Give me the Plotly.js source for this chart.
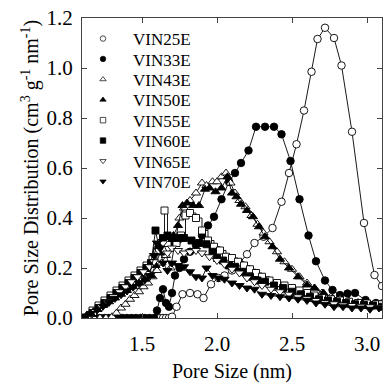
<!DOCTYPE html>
<html>
<head>
<meta charset="utf-8">
<script src="https://cdn.plot.ly/plotly-3.0.1.min.js"></script>
<style>html,body{margin:0;padding:0;background:#fff;}#chart{width:383px;height:383px;}</style>
</head>
<body>
<div id="chart"></div>
<script>
// ---- data ----
var seriesNames = ["VIN25E","VIN33E","VIN43E","VIN50E","VIN55E","VIN60E","VIN65E","VIN70E"];

var x25 = [1.60,1.62,1.64,1.66,1.68,1.70,1.73,1.77,1.82,1.87,1.91,1.96,2.01,2.05,2.10,2.15,2.20,2.25,2.31,2.37,2.43,2.48,2.53,2.58,2.63,2.67,2.72,2.78,2.83,2.90,2.98,3.05,3.10];
var y25 = [0,0,0,0,0,0.005,0.045,0.095,0.10,0.095,0.08,0.135,0.16,0.17,0.19,0.22,0.255,0.30,0.325,0.36,0.465,0.58,0.695,0.83,0.985,1.116,1.161,1.12,1.01,0.745,0.38,0.172,0.128];

var x33 = [1.10,1.13,1.16,1.19,1.22,1.25,1.28,1.31,1.34,1.37,1.40,1.43,1.46,1.49,1.52,1.55,1.58,1.60,1.62,1.64,1.66,1.68,1.70,1.72,1.75,1.78,1.82,1.86,1.90,1.94,1.98,2.03,2.08,2.12,2.16,2.21,2.26,2.32,2.38,2.43,2.49,2.55,2.61,2.66,2.72,2.77,2.82,2.87,2.92,2.99,3.06,3.10];
var y33 = [0,0,0,0,0,0,0,0,0,0,0,0,0,0,0,0,0,0.03,0.08,0.115,0.06,0.045,0.10,0.17,0.20,0.235,0.265,0.29,0.33,0.37,0.405,0.475,0.545,0.58,0.62,0.67,0.765,0.765,0.765,0.735,0.628,0.475,0.33,0.227,0.15,0.112,0.092,0.098,0.10,0.072,0.06,0.058];

var x43 = [1.10,1.14,1.18,1.22,1.26,1.30,1.33,1.36,1.39,1.42,1.45,1.48,1.51,1.54,1.57,1.60,1.63,1.66,1.69,1.72,1.75,1.78,1.82,1.86,1.90,1.93,1.97,2.00,2.03,2.06,2.09,2.12,2.15,2.19,2.23,2.27,2.31,2.35,2.40,2.45,2.50,2.55,2.60,2.65,2.70,2.76,2.82,2.88,2.94,3.00,3.06,3.10];
var y43 = [0,0,0,0,0,0.005,0.02,0.04,0.055,0.075,0.09,0.105,0.125,0.14,0.165,0.19,0.22,0.25,0.20,0.30,0.40,0.44,0.47,0.50,0.54,0.53,0.545,0.545,0.565,0.58,0.54,0.50,0.47,0.445,0.41,0.375,0.34,0.305,0.265,0.225,0.195,0.165,0.14,0.12,0.10,0.085,0.075,0.068,0.062,0.057,0.052,0.05];

var x50 = [1.10,1.13,1.16,1.20,1.24,1.28,1.32,1.36,1.40,1.44,1.48,1.52,1.56,1.59,1.62,1.65,1.68,1.71,1.74,1.77,1.80,1.84,1.88,1.92,1.95,1.99,2.03,2.07,2.10,2.13,2.16,2.20,2.24,2.28,2.32,2.37,2.42,2.48,2.54,2.60,2.65,2.71,2.77,2.83,2.90,2.97,3.04,3.10];
var y50 = [0,0.01,0.02,0.035,0.05,0.065,0.08,0.095,0.11,0.125,0.14,0.155,0.17,0.21,0.26,0.30,0.30,0.33,0.37,0.45,0.46,0.45,0.45,0.515,0.52,0.505,0.52,0.565,0.50,0.485,0.455,0.43,0.405,0.365,0.325,0.285,0.235,0.20,0.165,0.132,0.12,0.10,0.08,0.07,0.06,0.055,0.05,0.05];

var x55 = [1.13,1.17,1.21,1.25,1.29,1.33,1.37,1.41,1.45,1.49,1.53,1.57,1.60,1.63,1.65,1.67,1.70,1.73,1.76,1.79,1.82,1.86,1.90,1.94,1.98,2.02,2.06,2.10,2.14,2.18,2.22,2.26,2.30,2.35,2.40,2.45,2.50,2.55,2.60,2.65,2.70,2.76,2.82,2.88,2.94,3.00,3.06,3.10];
var y55 = [0,0.03,0.05,0.07,0.09,0.11,0.13,0.15,0.17,0.19,0.21,0.235,0.27,0.30,0.43,0.30,0.32,0.30,0.33,0.41,0.42,0.40,0.35,0.31,0.285,0.27,0.245,0.24,0.225,0.21,0.195,0.18,0.165,0.15,0.14,0.13,0.12,0.11,0.10,0.09,0.08,0.075,0.07,0.065,0.06,0.058,0.055,0.055];

var x60 = [1.13,1.17,1.21,1.25,1.29,1.33,1.37,1.41,1.45,1.49,1.53,1.56,1.59,1.61,1.64,1.67,1.70,1.74,1.78,1.83,1.88,1.93,1.97,2.00,2.04,2.08,2.12,2.17,2.22,2.27,2.32,2.38,2.44,2.50,2.56,2.62,2.68,2.74,2.80,2.86,2.92,2.98,3.04,3.10];
var y60 = [0,0.02,0.04,0.06,0.08,0.10,0.12,0.14,0.16,0.18,0.20,0.22,0.35,0.29,0.32,0.33,0.32,0.32,0.32,0.31,0.30,0.295,0.265,0.24,0.23,0.21,0.205,0.185,0.165,0.15,0.145,0.13,0.12,0.105,0.095,0.085,0.075,0.07,0.065,0.06,0.055,0.052,0.05,0.045];

var x65 = [1.15,1.19,1.23,1.27,1.31,1.35,1.39,1.43,1.47,1.51,1.55,1.58,1.61,1.64,1.67,1.70,1.74,1.78,1.82,1.86,1.90,1.95,2.00,2.05,2.10,2.15,2.20,2.25,2.30,2.36,2.42,2.48,2.54,2.60,2.66,2.72,2.78,2.84,2.90,2.96,3.02,3.08];
var y65 = [0.005,0.025,0.045,0.065,0.085,0.105,0.125,0.145,0.165,0.185,0.205,0.225,0.27,0.30,0.26,0.28,0.27,0.26,0.265,0.27,0.26,0.245,0.23,0.215,0.195,0.18,0.16,0.145,0.13,0.115,0.105,0.095,0.085,0.077,0.07,0.062,0.057,0.052,0.05,0.047,0.045,0.043];

var x70 = [1.10,1.13,1.16,1.20,1.24,1.28,1.32,1.36,1.40,1.44,1.48,1.52,1.55,1.58,1.60,1.62,1.64,1.67,1.70,1.74,1.78,1.82,1.86,1.90,1.93,1.97,2.01,2.05,2.10,2.15,2.20,2.25,2.30,2.36,2.42,2.48,2.54,2.60,2.66,2.72,2.78,2.84,2.90,2.96,3.02,3.08];
var y70 = [0,0.008,0.018,0.032,0.047,0.062,0.078,0.093,0.108,0.123,0.138,0.153,0.17,0.25,0.30,0.28,0.22,0.19,0.22,0.21,0.205,0.185,0.165,0.16,0.20,0.17,0.16,0.155,0.14,0.13,0.12,0.115,0.095,0.09,0.085,0.08,0.075,0.07,0.06,0.055,0.045,0.045,0.04,0.04,0.035,0.04];

var xTickVals = [1.5, 2.0, 2.5, 3.0];
var yTickVals = [0.0, 0.2, 0.4, 0.6, 0.8, 1.0, 1.2];

// ---- styles ----
var xs = [x25,x33,x43,x50,x55,x60,x65,x70];
var ys = [y25,y33,y43,y50,y55,y60,y65,y70];
var symbols = ["circle","circle","triangle-up","triangle-up","square","square","triangle-down","triangle-down"];
var filled  = [false,true,false,true,false,true,false,true];
var sizes   = [7.5,7.5,8,8,7,7,8,8];
var shapes  = ["linear","linear","linear","linear","hv","linear","linear","linear"];
var fontFam = "Liberation Serif, Times New Roman, serif";

var traces = [];
for (var i = 0; i < seriesNames.length; i++) {
  traces.push({
    type: "scatter", mode: "lines+markers", name: seriesNames[i],
    x: xs[i], y: ys[i], showlegend: false,
    line: {color: "#000", width: 0.9, shape: shapes[i]},
    marker: {symbol: symbols[i], size: sizes[i], color: filled[i] ? "#000" : "#fff",
             line: {color: "#000", width: 0.9}}
  });
}

var layout = {
  width: 383, height: 383,
  margin: {l: 82, r: 1, t: 18, b: 65, pad: 0},
  paper_bgcolor: "#fff", plot_bgcolor: "#fff",
  font: {family: fontFam, color: "#000", size: 17},
  showlegend: true,
  xaxis: {range: [1.1, 3.1], tickvals: xTickVals, tickformat: ".1f",
          ticks: "inside", ticklen: 5, tickwidth: 1, tickcolor: "#444",
          showline: true, linecolor: "#444", linewidth: 1, mirror: "ticks",
          showgrid: false, zeroline: false, ticklabelstandoff: 7,
          tickfont: {family: fontFam, size: 21, color: "#000"},
          title: {text: "Pore Size (nm)", font: {family: fontFam, size: 20, color: "#000"}, standoff: 14}},
  yaxis: {range: [0, 1.2], tickvals: yTickVals, tickformat: ".1f",
          ticks: "inside", ticklen: 5, tickwidth: 1, tickcolor: "#444",
          showline: true, linecolor: "#444", linewidth: 1, mirror: "ticks",
          showgrid: false, zeroline: false, ticklabelstandoff: 4,
          tickfont: {family: fontFam, size: 21, color: "#000"},
          title: {text: "Pore Size Distribution (cm<sup>3</sup> g<sup>-1</sup> nm<sup>-1</sup>)",
                  font: {family: fontFam, size: 20, color: "#000"}, standoff: 2}}
};

// one legend box per series so the rows keep the reference's tight spacing
var legendRowY = [0.930, 0.862, 0.794, 0.726, 0.658, 0.590, 0.522, 0.454];
for (var j = 0; j < seriesNames.length; j++) {
  var key = j === 0 ? "legend" : "legend" + (j + 1);
  layout[key] = {x: -0.030, y: legendRowY[j], xanchor: "left", yanchor: "middle",
                 font: {family: fontFam, size: 17, color: "#000"},
                 itemwidth: 50, bgcolor: "rgba(0,0,0,0)", borderwidth: 0};
  traces.push({
    type: "scatter", mode: "markers", name: seriesNames[j],
    x: [null], y: [null], showlegend: true, legend: key,
    marker: {symbol: symbols[j], size: 5.5, color: filled[j] ? "#000" : "#fff",
             line: {color: "#000", width: 0.7}}
  });
}

Plotly.newPlot("chart", traces, layout, {displayModeBar: false, staticPlot: true});
</script>
</body>
</html>
